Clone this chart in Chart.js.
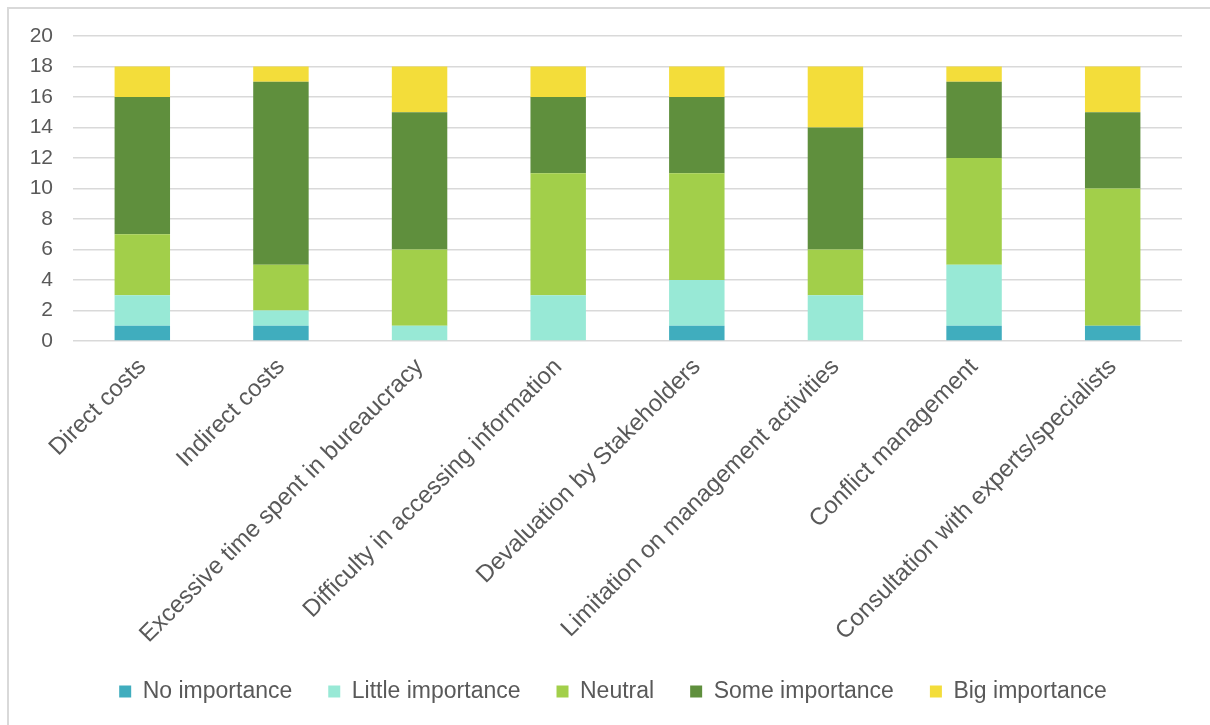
<!DOCTYPE html>
<html>
<head>
<meta charset="utf-8">
<script src="https://cdn.jsdelivr.net/npm/chart.js@4/dist/chart.umd.min.js"></script>
<style>
  body { margin: 0; background: #fff; }
  #frame { position: absolute; left: 7px; top: 7px; width: 1210px; height: 725px; border-left: 2px solid #d9d9d9; border-top: 2px solid #d9d9d9; }
  #wrap { position: absolute; left: 0; top: 0; width: 1210px; height: 725px; }
</style>
</head>
<body>
<div id="frame"></div>
<div id="wrap"><canvas id="chart"></canvas></div>
<script>
// categories and the count of answers per importance level
const categories = [
  'Direct costs',
  'Indirect costs',
  'Excessive time spent in bureaucracy',
  'Difficulty in accessing information',
  'Devaluation by Stakeholders',
  'Limitation on management activities',
  'Conflict management',
  'Consultation with experts/specialists'
];
const noImportance     = [1, 1, 0, 0, 1, 0, 1, 1];
const littleImportance = [2, 1, 1, 3, 3, 3, 4, 0];
const neutral          = [4, 3, 5, 8, 7, 3, 7, 9];
const someImportance   = [9, 12, 9, 5, 5, 8, 5, 5];
const bigImportance    = [2, 1, 3, 2, 2, 4, 1, 3];
const yTicks = [0, 2, 4, 6, 8, 10, 12, 14, 16, 18, 20];

const textColor = '#595959';
Chart.defaults.font.family = '"Liberation Sans", Arial, sans-serif';
Chart.defaults.color = textColor;

function ds(label, data, color) {
  return { label: label, data: data, backgroundColor: color, borderWidth: 0, barPercentage: 0.4, categoryPercentage: 1 };
}

// legend in the reference sits a little right of the canvas centre
const shiftLegend = {
  id: 'shiftLegend',
  beforeDraw(chart) {
    const target = 613;
    const dx = target - (chart.legend.left + chart.legend.right) / 2;
    chart.legend.left += dx;
    chart.legend.right += dx;
  }
};

new Chart(document.getElementById('chart'), {
  type: 'bar',
  data: {
    labels: categories,
    datasets: [
      ds('No importance', noImportance, '#40adbe'),
      ds('Little importance', littleImportance, '#98e9d6'),
      ds('Neutral', neutral, '#a2cf4a'),
      ds('Some importance', someImportance, '#5f8f3d'),
      ds('Big importance', bigImportance, '#f3dd3a')
    ]
  },
  plugins: [shiftLegend],
  options: {
    responsive: true,
    maintainAspectRatio: false,
    animation: false,
    layout: { padding: { top: 36, right: 28, bottom: 12, left: 0 } },
    plugins: {
      tooltip: { enabled: false },
      legend: {
        position: 'bottom',
        labels: { boxWidth: 12, boxHeight: 12, padding: 36, font: { size: 23 }, color: textColor }
      }
    },
    scales: {
      x: {
        stacked: true,
        grid: { display: false },
        border: { display: false },
        ticks: { minRotation: 45, maxRotation: 45, autoSkip: false, padding: 4, font: { size: 24 } },
        afterFit: function (s) { s.height = 303; }
      },
      y: {
        stacked: true,
        min: 0,
        max: 20,
        afterBuildTicks: function (s) { s.ticks = yTicks.map(v => ({ value: v })); },
        grid: { color: '#d9d9d9', lineWidth: 1.5, drawTicks: false },
        border: { display: false },
        ticks: { autoSkip: false, padding: 20, font: { size: 21 } },
        afterFit: function (s) { s.width = 73; }
      }
    }
  }
});
</script>
</body>
</html>
